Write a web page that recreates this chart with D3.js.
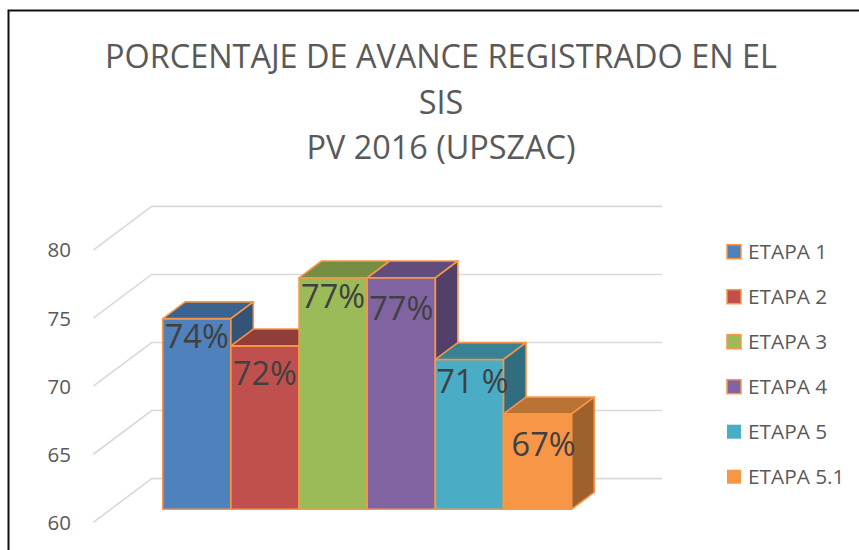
<!DOCTYPE html>
<html>
<head>
<meta charset="utf-8">
<script src="https://cdn.jsdelivr.net/npm/d3@7/dist/d3.min.js"></script>
<style>
  html, body { margin: 0; padding: 0; background: #fff; }
  svg { display: block; font-family: "Open Sans", "Noto Sans", sans-serif; }
</style>
</head>
<body>
<svg id="chart" width="859" height="550"></svg>
<script>
// Chart data
const titleLines = ["PORCENTAJE DE AVANCE REGISTRADO EN EL", "SIS", "PV 2016 (UPSZAC)"];
const stages = ["ETAPA 1", "ETAPA 2", "ETAPA 3", "ETAPA 4", "ETAPA 5", "ETAPA 5.1"];
const progress = [74, 72, 77, 77, 71, 67];
const valueLabels = ["74%", "72%", "77%", "77%", "71 %", "67%"];
const yTicks = [60, 65, 70, 75, 80];
const colors = ["#4F81BD", "#C0504D", "#9BBB59", "#8064A2", "#4BACC6", "#F79646"];

// Layout of the oblique 3D box
const floorLeft = 93.3;            // front-left corner of the floor
const depthVec = [58.4, -43.7];    // full depth of the plot box
const gridRight = 662;
const barDepth = [0.30, 0.685];    // bars sit in the middle of the depth
const labelDy = [18, 27, 18, 30, 22, 30];
const labelDx = [0, 0, 0, 0, 3, 6];

const svg = d3.select("#chart");

// Value scale on the front plane of the box
const y = d3.scaleLinear().domain([60, 80]).range([522.3, 250.1]);
// Horizontal band scale for the bars (front-plane coordinates)
const x = d3.scaleBand().domain(stages).range([145.2, 554.2]).padding(0);

const P = (px, v, d) => [px + d * depthVec[0], y(v) + d * depthVec[1]];

// Frame
svg.append("rect")
  .attr("x", 8.5).attr("y", 10.5).attr("width", 900).attr("height", 600)
  .attr("fill", "none").attr("stroke", "#111").attr("stroke-width", 2);

// Title
svg.append("g").selectAll("text").data(titleLines).join("text")
  .attr("x", 441).attr("y", (d, i) => 68 + i * 45.5)
  .attr("text-anchor", "middle")
  .attr("fill", "#595959").attr("font-size", 32.4)
  .text(d => d);

// Gridlines: diagonal on the left wall, then across the back wall
const grid = svg.append("g");
yTicks.forEach(t => {
  const back = P(floorLeft, t, 1);
  grid.append("path")
    .attr("d", d3.line()([[floorLeft, y(t)], back, [gridRight, back[1]]]))
    .attr("fill", "none").attr("stroke", "#D9D9D9").attr("stroke-width", 1.6);
});

// Axis labels
svg.append("g").selectAll("text").data(yTicks).join("text")
  .attr("x", 71).attr("y", d => y(d))
  .attr("dy", "0.36em")
  .attr("text-anchor", "end")
  .attr("fill", "#595959").attr("font-size", 20.5)
  .text(d => d);

// Bars
const shade = (c, k) => d3.rgb(c).darker(k).formatHex();
const bars = svg.append("g");
stages.forEach((s, i) => {
  const x0 = x(s), x1 = x(s) + x.bandwidth();
  const v = progress[i];
  const [d0, d1] = barDepth;
  const g = bars.append("g");
  const poly = pts => d3.line()(pts) + "Z";
  // front face
  g.append("path")
    .attr("d", poly([P(x0, 60, d0), P(x1, 60, d0), P(x1, v, d0), P(x0, v, d0)]))
    .attr("fill", colors[i]);
  // top face
  g.append("path")
    .attr("d", poly([P(x0, v, d0), P(x1, v, d0), P(x1, v, d1), P(x0, v, d1)]))
    .attr("fill", shade(colors[i], 0.78));
  // right side face
  g.append("path")
    .attr("d", poly([P(x1, 60, d0), P(x1, 60, d1), P(x1, v, d1), P(x1, v, d0)]))
    .attr("fill", shade(colors[i], 1.25));
  g.selectAll("path")
    .attr("stroke", "#F79646").attr("stroke-width", 1.6).attr("stroke-linejoin", "round");
});

// Value labels
svg.append("g").selectAll("text").data(stages).join("text")
  .attr("x", (s, i) => P(x(s) + x.bandwidth() / 2, progress[i], barDepth[0])[0] + labelDx[i])
  .attr("y", (s, i) => P(x(s), progress[i], barDepth[0])[1] + labelDy[i])
  .attr("dy", "0.36em")
  .attr("text-anchor", "middle")
  .attr("fill", "#404040").attr("font-size", 32.5)
  .text((s, i) => valueLabels[i]);

// Legend
const legend = svg.append("g").selectAll("g").data(stages).join("g")
  .attr("transform", (d, i) => `translate(727, ${251.7 + i * 45})`);
legend.append("rect")
  .attr("x", 0).attr("y", -7).attr("width", 14).attr("height", 14)
  .attr("fill", (d, i) => colors[i])
  .attr("stroke", (d, i) => i < 4 ? "#F79646" : "none")
  .attr("stroke-width", 1.5);
legend.append("text")
  .attr("x", 21).attr("y", 0).attr("dy", "0.36em")
  .attr("fill", "#595959").attr("font-size", 20.8)
  .text(d => d);
</script>
</body>
</html>
